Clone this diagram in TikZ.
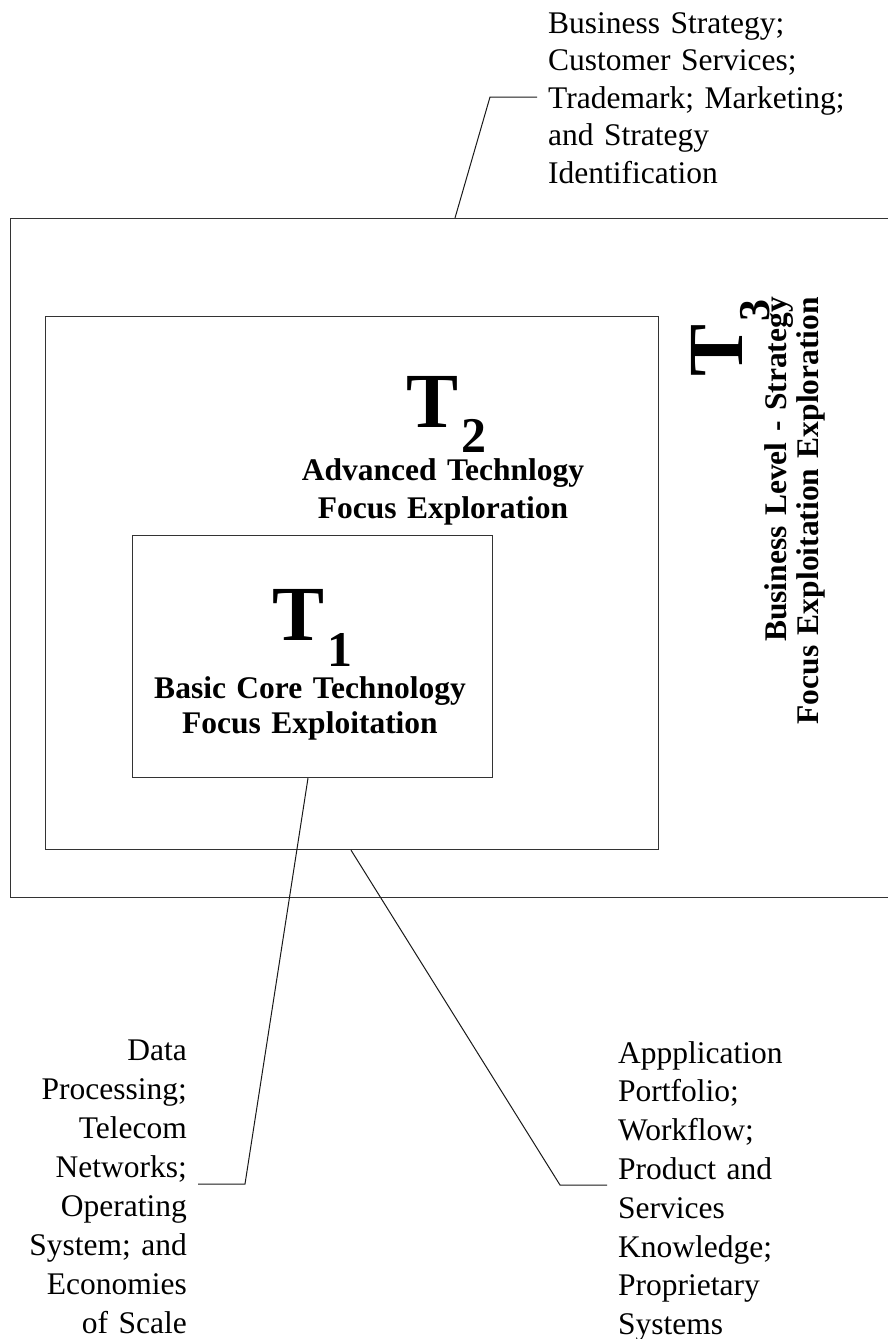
\documentclass[tikz,border=0pt]{standalone}
\usepackage{fontspec}
\setmainfont{Liberation Serif}
\usetikzlibrary{calc}
% big bold tier letter with a lowered index digit
\newcommand\tiermark[4]{{\fontsize{78}{78}\selectfont\bfseries T\kern#3\raisebox{-#4}{\fontsize{#2}{#2}\selectfont #1}}}
\begin{document}
\begin{tikzpicture}[x=1pt,y=-1pt,
  frame/.style={draw=black!80, line width=1.1pt, inner sep=0pt, anchor=north west},
  leader/.style={draw=black!90, line width=1pt},
  note/.style={inner sep=0pt, font=\fontsize{31.5}{38.8}\selectfont},
  title/.style={inner sep=0pt, font=\fontsize{31.5}{36}\selectfont\bfseries},
  tiermk/.style={inner sep=0pt, anchor=base west},
]
\useasboundingbox (0,0) rectangle (888,1339);
\clip (0,0) rectangle (888,1339);

% nested tier frames
\node[frame, minimum width=890pt, minimum height=679pt] (tier3) at (10,218) {};
\node[frame, minimum width=613pt, minimum height=533pt] (tier2) at (45,316) {};
\node[frame, minimum width=360pt, minimum height=242pt] (tier1) at (132,535) {};

% tier headings
\node[tiermk] (t2mark) at (406,427) {\tiermark{2}{50}{3pt}{25pt}};
\node[title, text width=340pt, align=center, anchor=base, font=\fontsize{31.5}{38}\selectfont\bfseries] (t2text) at (443,480)
  {Advanced Technlogy\\Focus Exploration};

\node[tiermk] (t1mark) at (272,640) {\tiermark{1}{50}{3pt}{26pt}};
\node[title, text width=340pt, align=center, anchor=base, font=\fontsize{31.5}{35}\selectfont\bfseries] (t1text) at (310,698)
  {Basic Core Technology\\Focus Exploitation};

\node[tiermk, rotate=90] (t3mark) at (742,377) {\tiermark{3}{44}{3pt}{27pt}};
\node[title, rotate=90, text width=450pt, align=right, anchor=base east, font=\fontsize{31.5}{32}\selectfont\bfseries] (t3text) at (786,297)
  {Business Level - Strategy\\Focus Exploitation Exploration};

% callout texts
\node[note, text width=330pt, align=left, anchor=base west, font=\fontsize{31.5}{37.5}\selectfont] (toplabel) at (548,33)
  {Business Strategy;\\Customer Services;\\Trademark; Marketing;\\and Strategy\\Identification};
\node[note, text width=200pt, align=right, anchor=base east, font=\fontsize{31.5}{39}\selectfont] (leftlabel) at (187,1060)
  {Data\\Processing;\\Telecom\\Networks;\\Operating\\System; and\\Economies\\of Scale};
\node[note, text width=260pt, align=left, anchor=base west] (rightlabel) at (618,1063)
  {Appplication\\Portfolio;\\Workflow;\\Product and\\Services\\Knowledge;\\Proprietary\\Systems};

% leader lines
\coordinate (topknee) at (490,97);
\coordinate (topend) at (537,97);
\coordinate (leftknee) at (245,1184);
\coordinate (leftend) at (198,1184);
\coordinate (rightknee) at (560,1185);
\coordinate (rightend) at (607,1185);
\draw[leader] ($(tier3.north west)+(445,0)$) -- (topknee) -- (topend);
\draw[leader] ($(tier1.south west)+(176,0)$) -- (leftknee) -- (leftend);
\draw[leader] ($(tier2.south west)+(306,0)$) -- (rightknee) -- (rightend);
\end{tikzpicture}
\end{document}
